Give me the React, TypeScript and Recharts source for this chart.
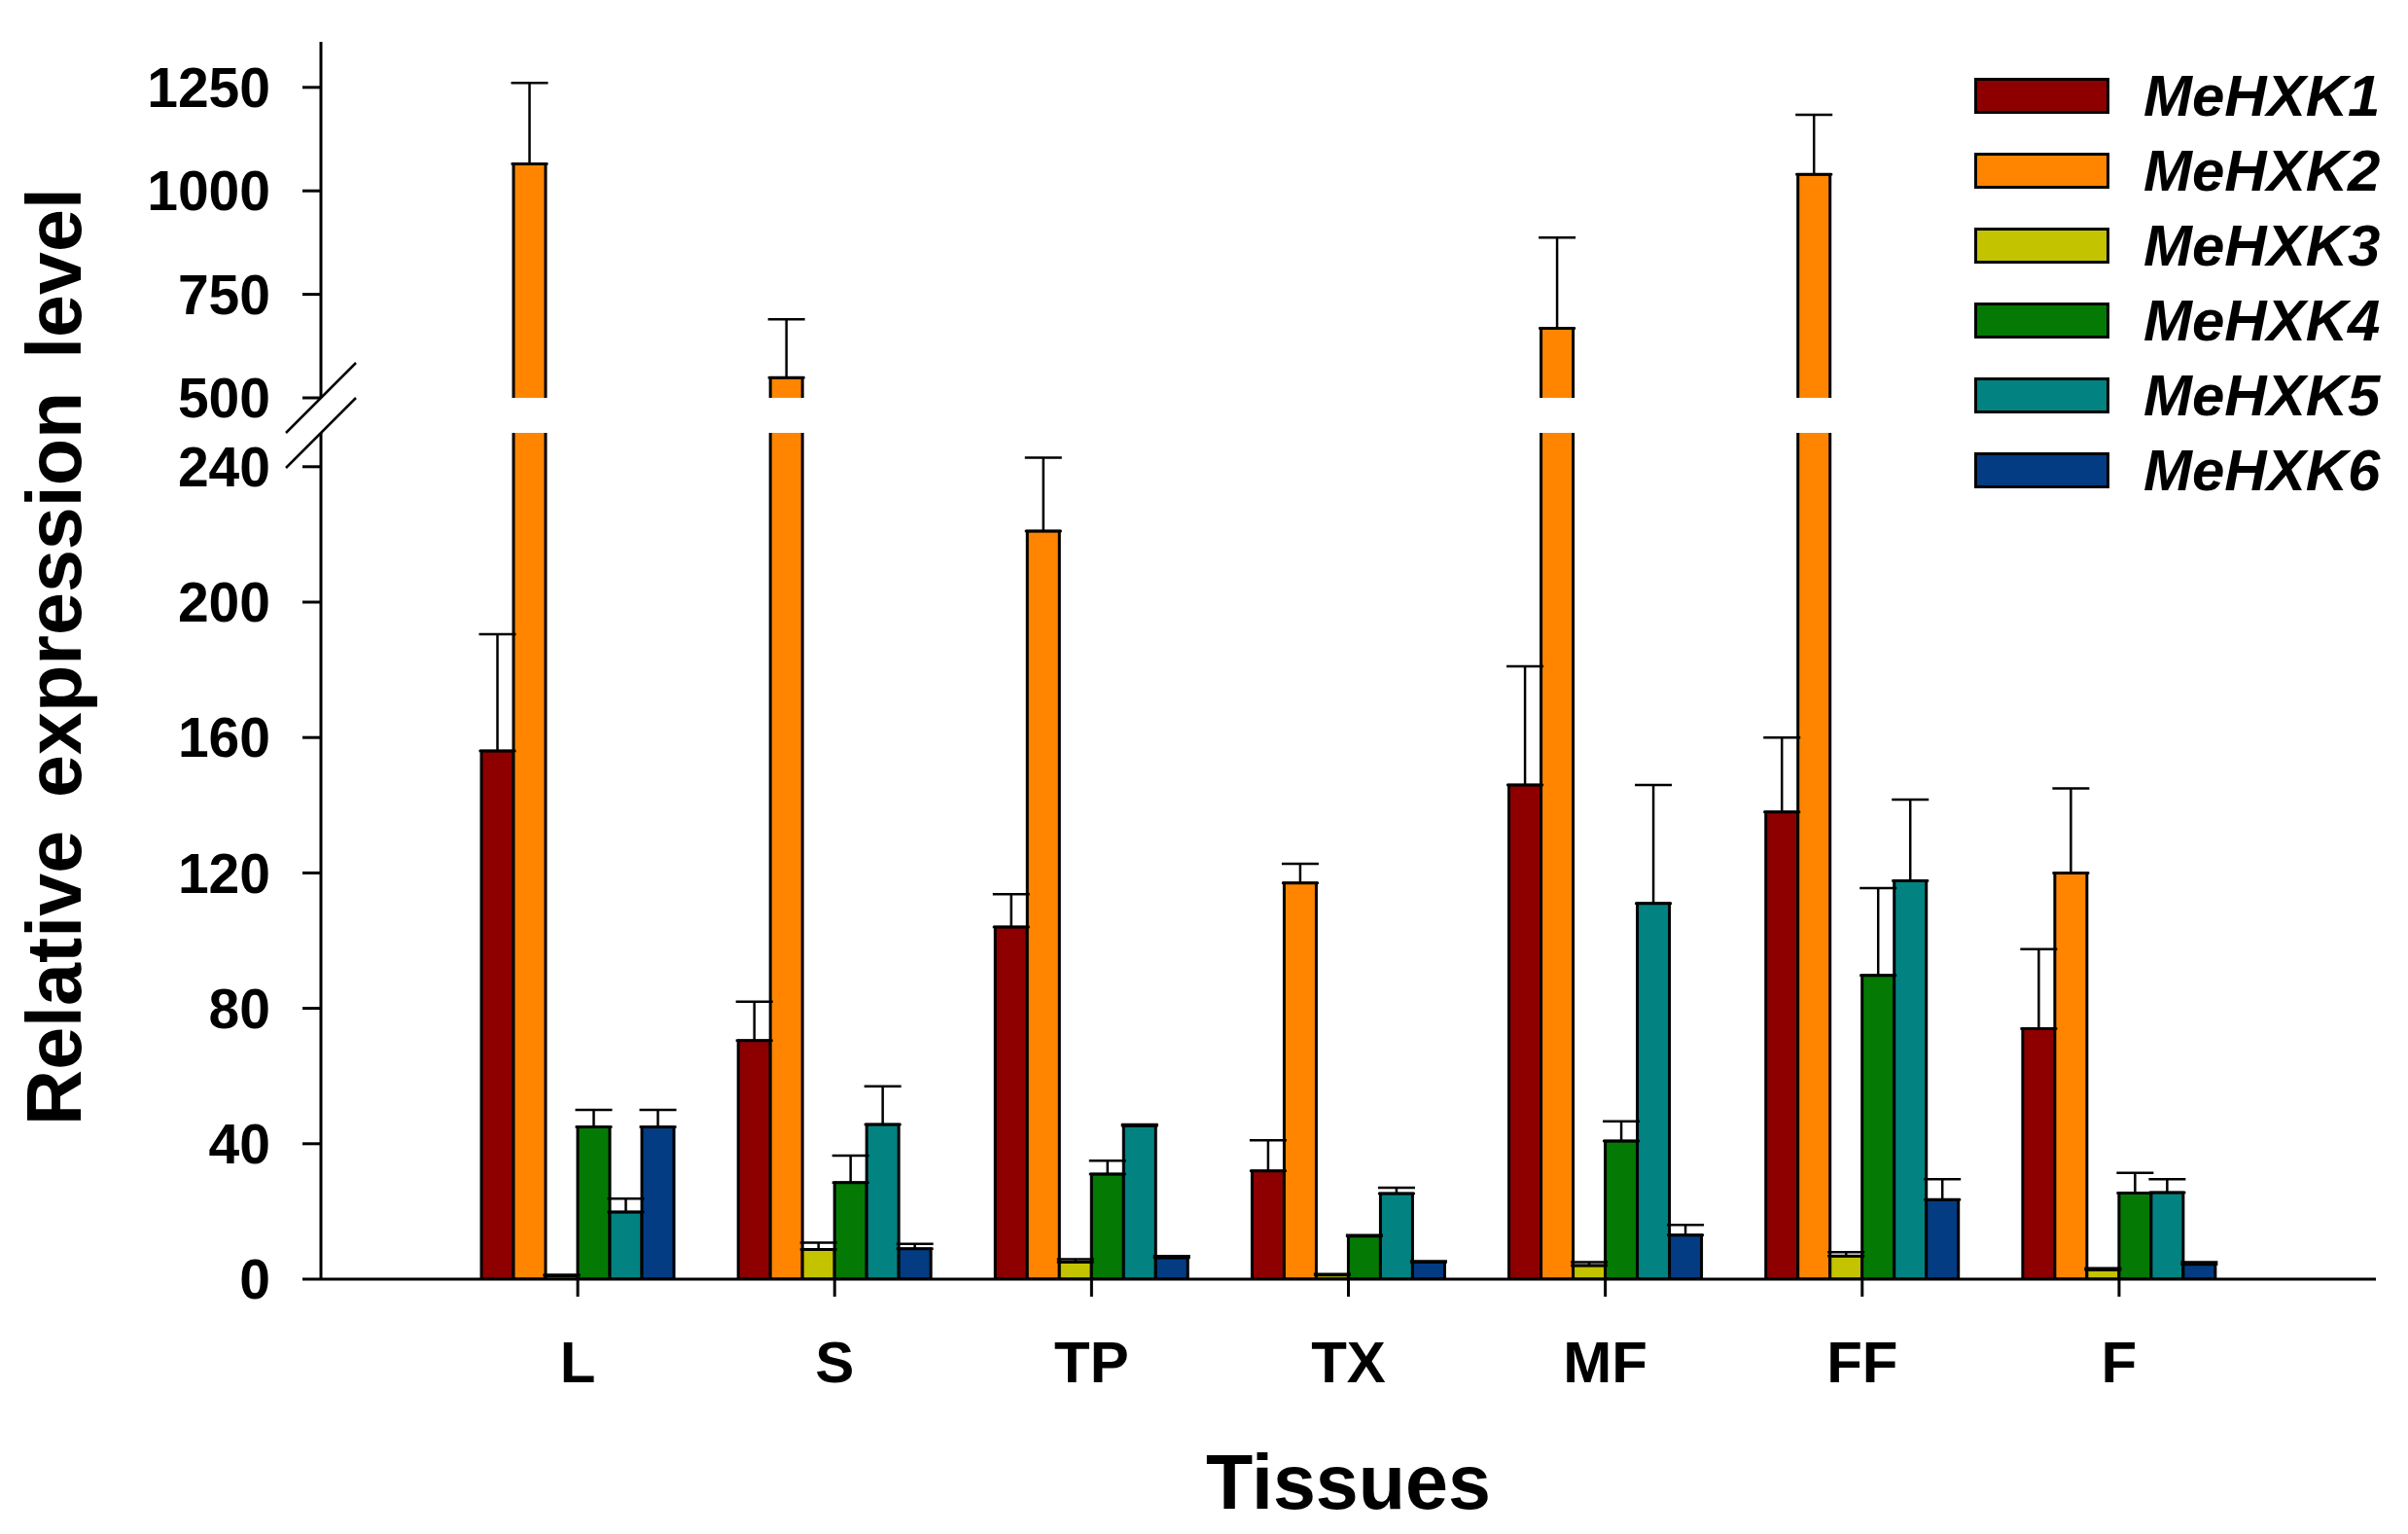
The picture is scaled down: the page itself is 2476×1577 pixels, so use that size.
import React from "react";
import { BarChart, Bar, XAxis, YAxis, ErrorBar, ReferenceLine } from "recharts";

const FONT = '"Liberation Sans", Arial, Helvetica, sans-serif';

const tissues = ["L", "S", "TP", "TX", "MF", "FF", "F"];
const genes = ["MeHXK1", "MeHXK2", "MeHXK3", "MeHXK4", "MeHXK5", "MeHXK6"];
const colors = ["#8e0000", "#ff8500", "#c3c300", "#047a04", "#038282", "#033c82"];

// mean values per tissue
const hxk1 = [156, 70.5, 104, 32, 146, 138, 74];
const hxk2 = [1065, 549, 221, 117, 668, 1040, 120];
const hxk3 = [1, 8.8, 5, 1.2, 4, 6.8, 2.7];
const hxk4 = [45, 28.5, 31, 12.7, 40.8, 89.7, 25.4];
const hxk5 = [19.8, 45.7, 45.3, 25.3, 111, 117.7, 25.6];
const hxk6 = [45, 9, 6.3, 5, 13, 23.5, 4.4];

// upper error (SD)
const hxk1Err = [34.5, 11.5, 9.7, 9, 35, 22, 23.5];
const hxk2Err = [196, 141, 21.7, 5.7, 219, 144, 25];
const hxk3Err = [0.3, 2, 0.9, 0.3, 1, 1.2, 0.5];
const hxk4Err = [5, 8, 4, 0.3, 5.8, 25.8, 6];
const hxk5Err = [4, 11.3, 0.4, 1.7, 35, 24, 3.9];
const hxk6Err = [5, 1.4, 0.5, 0.3, 3, 6, 0.6];

const lowerTicks = [0, 40, 80, 120, 160, 200, 240];
const upperTicks = [500, 750, 1000, 1250];
const LOWER_MAX = 250;
const UPPER_MIN = 500;
const UPPER_MAX = 1360;

const values = [hxk1, hxk2, hxk3, hxk4, hxk5, hxk6];
const errors = [hxk1Err, hxk2Err, hxk3Err, hxk4Err, hxk5Err, hxk6Err];

const lowerData = tissues.map((t, i) => {
  const row: Record<string, any> = { tissue: t };
  values.forEach((v, g) => {
    row[`v${g}`] = v[i];
    row[`e${g}`] = v[i] > LOWER_MAX ? null : [0, errors[g][i]];
  });
  return row;
});

const upperData = tissues.map((t, i) => {
  const row: Record<string, any> = { tissue: t };
  values.forEach((v, g) => {
    row[`v${g}`] = v[i] >= UPPER_MIN ? v[i] : null;
    row[`e${g}`] = v[i] >= UPPER_MIN ? [0, errors[g][i]] : null;
  });
  return row;
});

const W = 2476;
const H = 1577;
const Y_AXIS_W = 200;
const PLOT_LEFT = 330;
const PLOT_RIGHT = 33;
const X_PAD = 132;
const BAR = 33;

const tickStyle = { fontSize: 57, fontWeight: 700, fill: "#000", fontFamily: FONT };
const axisStroke = { stroke: "#000", strokeWidth: 3 };

// bar cut by the axis break: no bottom edge
function OpenBar(props: any) {
  const { x, y, width, height, fill } = props;
  if (!height || height <= 0 || isNaN(y)) return null;
  return (
    <g>
      <rect x={x} y={y} width={width} height={height} fill={fill} />
      <path
        d={`M${x},${y + height}V${y}H${x + width}V${y + height}`}
        fill="none"
        stroke="#000"
        strokeWidth={3}
      />
    </g>
  );
}

function BreakMark(props: any) {
  const { x1, y1 } = props;
  return (
    <line x1={x1 - 36} y1={y1 + 36} x2={x1 + 36} y2={y1 - 36} stroke="#000" strokeWidth={2.5} />
  );
}

function TissueTick(props: any) {
  const { x, y, payload } = props;
  return (
    <text x={x} y={y + 86} textAnchor="middle" style={{ ...tickStyle, fontSize: 60 }}>
      {payload.value}
    </text>
  );
}

function XTitle(props: any) {
  const { x, y, width } = props.viewBox;
  return (
    <text x={x + width / 2} y={y + 236} textAnchor="middle" style={{ ...tickStyle, fontSize: 79 }}>
      Tissues
    </text>
  );
}

function YTitle(props: any) {
  const { y } = props.viewBox;
  return (
    <text
      x={83}
      y={y + 230}
      transform={`rotate(-90 83 ${y + 230})`}
      textAnchor="middle"
      style={{ ...tickStyle, fontSize: 79, wordSpacing: 12 }}
    >
      Relative expression level
    </text>
  );
}

function Legend() {
  return (
    <div>
      {genes.map((g, i) => (
        <div
          key={g}
          style={{
            position: "absolute",
            left: 2030,
            top: 99 - 19 + i * 77,
            height: 37,
            display: "flex",
            alignItems: "center",
          }}
        >
          <div
            style={{
              width: 139,
              height: 37,
              boxSizing: "border-box",
              border: "3px solid #000",
              background: colors[i],
            }}
          />
          <span
            style={{
              marginLeft: 35,
              fontFamily: FONT,
              fontSize: 60,
              fontWeight: 700,
              fontStyle: "italic",
              lineHeight: 1,
              color: "#000",
            }}
          >
            {g}
          </span>
        </div>
      ))}
    </div>
  );
}

export default function App() {
  return (
    <div style={{ position: "absolute", left: 0, top: 0, width: W, height: H, background: "#fff" }}>
      <div style={{ position: "absolute", left: 0, top: 0 }}>
        <BarChart
          width={W}
          height={H}
          data={lowerData}
          barGap={0}
          barSize={BAR}
          margin={{ top: 445, right: PLOT_RIGHT, bottom: 162, left: PLOT_LEFT - Y_AXIS_W }}
        >
          <XAxis
            dataKey="tissue"
            height={100}
            padding={{ left: X_PAD, right: X_PAD }}
            axisLine={axisStroke}
            tickLine={axisStroke}
            tickSize={18}
            tick={<TissueTick />}
            interval={0}
            label={XTitle}
          />
          <YAxis
            width={Y_AXIS_W}
            domain={[0, LOWER_MAX]}
            ticks={lowerTicks}
            allowDataOverflow
            axisLine={axisStroke}
            tickLine={axisStroke}
            tickSize={19}
            tickMargin={33}
            tick={tickStyle}
            label={YTitle}
          />
          {genes.map((g, i) => (
            <Bar
              key={g}
              dataKey={`v${i}`}
              name={g}
              fill={colors[i]}
              stroke="#000"
              strokeWidth={3}
              isAnimationActive={false}
            >
              <ErrorBar dataKey={`e${i}`} width={19} stroke="#000" strokeWidth={2.5} direction="y" />
            </Bar>
          ))}
          <ReferenceLine y={LOWER_MAX} ifOverflow="visible" shape={BreakMark} />
        </BarChart>
      </div>
      <div style={{ position: "absolute", left: 0, top: 0 }}>
        <BarChart
          width={W}
          height={520}
          data={upperData}
          barGap={0}
          barSize={BAR}
          margin={{ top: 43, right: PLOT_RIGHT, bottom: 111, left: PLOT_LEFT - Y_AXIS_W }}
        >
          <XAxis dataKey="tissue" hide padding={{ left: X_PAD, right: X_PAD }} />
          <YAxis
            width={Y_AXIS_W}
            domain={[UPPER_MIN, UPPER_MAX]}
            ticks={upperTicks}
            allowDataOverflow
            axisLine={axisStroke}
            tickLine={axisStroke}
            tickSize={19}
            tickMargin={33}
            tick={tickStyle}
          />
          {genes.map((g, i) => (
            <Bar
              key={g}
              dataKey={`v${i}`}
              name={g}
              fill={colors[i]}
              shape={OpenBar}
              isAnimationActive={false}
            >
              <ErrorBar dataKey={`e${i}`} width={19} stroke="#000" strokeWidth={2.5} direction="y" />
            </Bar>
          ))}
          <ReferenceLine y={UPPER_MIN} ifOverflow="visible" shape={BreakMark} />
        </BarChart>
      </div>
      <Legend />
    </div>
  );
}
